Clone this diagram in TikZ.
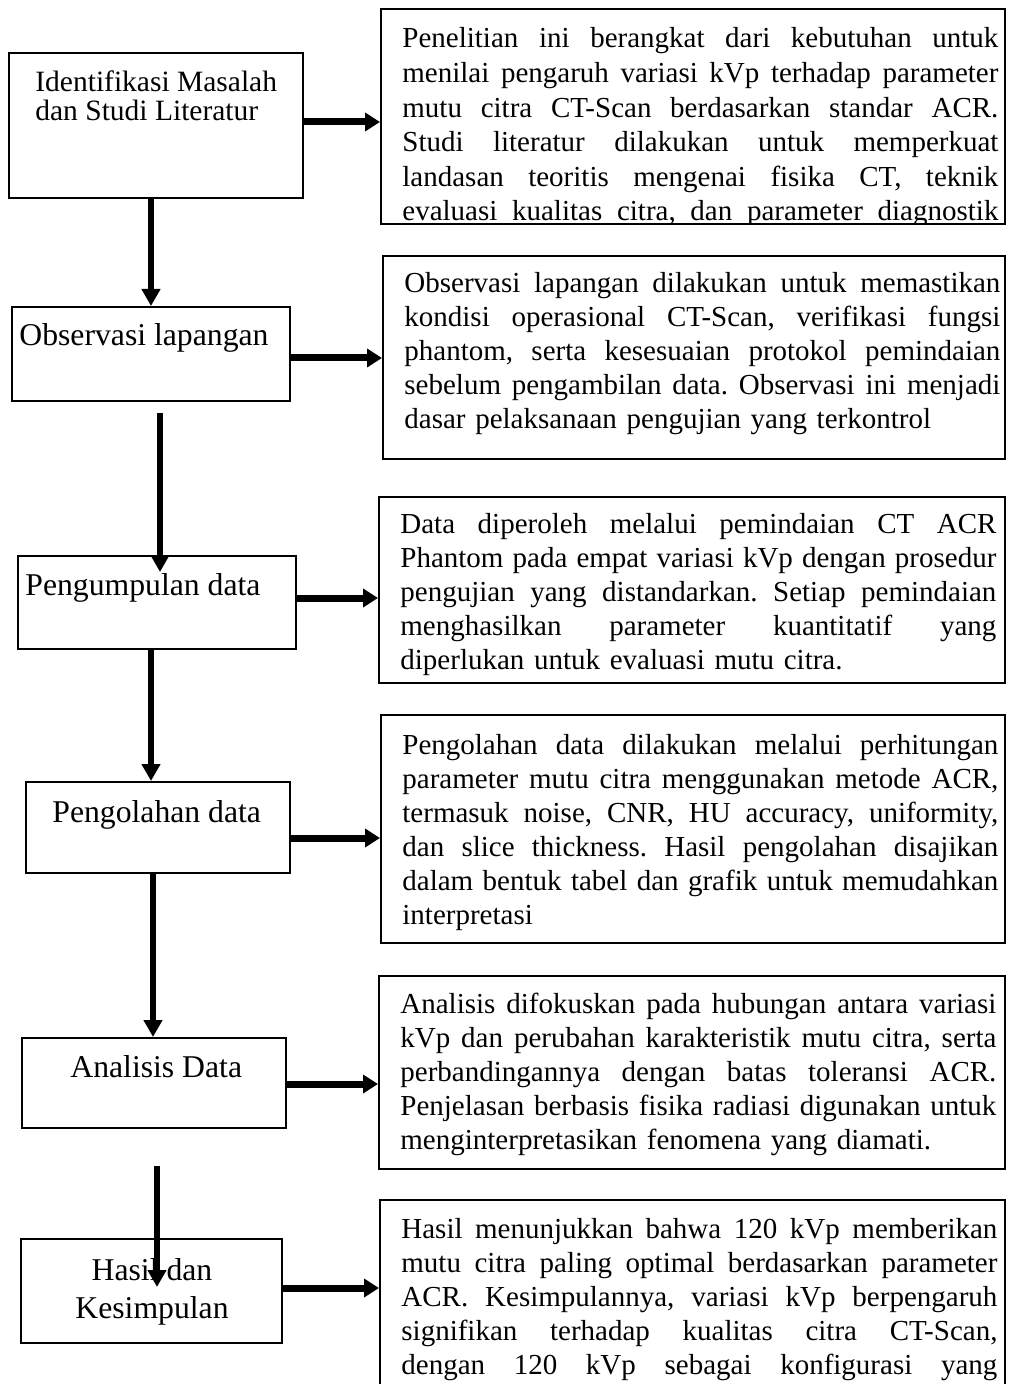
\documentclass[tikz,border=0pt]{standalone}
\usepackage{fontspec}
\setmainfont{Liberation Serif}[Ligatures=NoCommon]
\usetikzlibrary{arrows.meta}
\frenchspacing
\newcommand{\jline}[1]{\makebox[298pt][s]{\spaceskip=0pt\xspaceskip=0pt #1}}

\begin{document}
\begin{tikzpicture}[x=0.5pt, y=-0.5pt, line join=miter]
\tikzset{
  sbox/.style={draw, line width=1pt, anchor=north west, inner sep=0pt},
  dbox/.style={draw, line width=1pt, anchor=north west, inner sep=0pt},
  slabel/.style={inner sep=0pt, anchor=base west, font=\fontsize{15.85}{19}\selectfont},
  dtext/.style={inner sep=0pt, anchor=base west, text width=298pt, align=left, font=\fontsize{14.5}{17}\selectfont},
  harrow/.style={line width=3.5pt, -{Triangle[length=7.5pt,width=9pt]}},
  varrow/.style={line width=3pt, -{Triangle[length=8.5pt,width=9pt]}}
}
\clip (0,0) rectangle (1009,1384);
% steps on the left
\node[sbox, minimum width=147pt, minimum height=72.5pt] (s1) at (8,52) {};
\node[sbox, minimum width=139pt, minimum height=47pt] (s2) at (11,306) {};
\node[sbox, minimum width=139pt, minimum height=46.5pt] (s3) at (17,555) {};
\node[sbox, minimum width=132pt, minimum height=45.5pt] (s4) at (25,781) {};
\node[sbox, minimum width=132pt, minimum height=45pt] (s5) at (21,1037) {};
\node[sbox, minimum width=130.5pt, minimum height=52pt] (s6) at (20,1238) {};
\node[slabel, font=\fontsize{14.75}{17}\selectfont] (l1a) at (35,92) {Identifikasi Masalah};
\node[slabel, font=\fontsize{14.75}{17}\selectfont] (l1b) at (35,121) {dan Studi Literatur};
\node[slabel] (l2) at (19,346) {Observasi lapangan};
\node[slabel] (l3) at (25,595) {Pengumpulan data};
\node[slabel] (l4) at (52,822) {Pengolahan data};
\node[slabel] (l5) at (70,1077) {Analisis Data};
\node[slabel, anchor=base] (l6a) at (152,1280) {Hasil dan};
\node[slabel, anchor=base] (l6b) at (152,1318) {Kesimpulan};
% descriptions on the right
\node[dbox, minimum width=312pt, minimum height=107.5pt] (d1) at (380,8) {};
\node[dbox, minimum width=311pt, minimum height=101.5pt] (d2) at (382,255) {};
\node[dbox, minimum width=313pt, minimum height=93pt] (d3) at (378,496) {};
\node[dbox, minimum width=312pt, minimum height=114pt] (d4) at (380,714) {};
\node[dbox, minimum width=313pt, minimum height=96.5pt] (d5) at (378,975) {};
\node[dbox, minimum width=312.5pt, minimum height=125pt] (d6) at (379,1199) {};
\begin{scope}
\clip (d1.north west) rectangle (d1.south east);
\node[dtext, font=\fontsize{14.5}{17.3}\selectfont] (t1) at (402,48) {\jline{Penelitian ini berangkat dari kebutuhan untuk}\\
  \jline{menilai pengaruh variasi kVp terhadap parameter}\\
  \jline{mutu citra CT-Scan berdasarkan standar ACR.}\\
  \jline{Studi literatur dilakukan untuk memperkuat}\\
  \jline{landasan teoritis mengenai fisika CT, teknik}\\
  \jline{evaluasi kualitas citra, dan parameter diagnostik}};
\end{scope}
\node[dtext] (t2) at (404,293) {\jline{Observasi lapangan dilakukan untuk memastikan}\\
  \jline{kondisi operasional CT-Scan, verifikasi fungsi}\\
  \jline{phantom, serta kesesuaian protokol pemindaian}\\
  \jline{sebelum pengambilan data. Observasi ini menjadi}\\
  dasar pelaksanaan pengujian yang terkontrol};
\node[dtext] (t3) at (400,533) {\jline{Data diperoleh melalui pemindaian CT ACR}\\
  \jline{Phantom pada empat variasi kVp dengan prosedur}\\
  \jline{pengujian yang distandarkan. Setiap pemindaian}\\
  \jline{menghasilkan parameter kuantitatif yang}\\
  diperlukan untuk evaluasi mutu citra.};
\node[dtext] (t4) at (402,754) {\jline{Pengolahan data dilakukan melalui perhitungan}\\
  \jline{parameter mutu citra menggunakan metode ACR,}\\
  \jline{termasuk noise, CNR, HU accuracy, uniformity,}\\
  \jline{dan slice thickness. Hasil pengolahan disajikan}\\
  \jline{dalam bentuk tabel dan grafik untuk memudahkan}\\
  interpretasi};
\node[dtext] (t5) at (400,1013) {\jline{Analisis difokuskan pada hubungan antara variasi}\\
  \jline{kVp dan perubahan karakteristik mutu citra, serta}\\
  \jline{perbandingannya dengan batas toleransi ACR.}\\
  \jline{Penjelasan berbasis fisika radiasi digunakan untuk}\\
  menginterpretasikan fenomena yang diamati.};
\node[dtext] (t6) at (401,1238) {\jline{Hasil menunjukkan bahwa 120 kVp memberikan}\\
  \jline{mutu citra paling optimal berdasarkan parameter}\\
  \jline{ACR. Kesimpulannya, variasi kVp berpengaruh}\\
  \jline{signifikan terhadap kualitas citra CT-Scan,}\\
  \jline{dengan 120 kVp sebagai konfigurasi yang}};
% arrows
\draw[harrow] (s1.east |- 0,122) -- (d1.west |- 0,122);
\draw[harrow] (s2.east |- 0,358) -- (d2.west |- 0,358);
\draw[harrow] (s3.east |- 0,598) -- (d3.west |- 0,598);
\draw[harrow] (s4.east |- 0,838) -- (d4.west |- 0,838);
\draw[harrow] (s5.east |- 0,1084) -- (d5.west |- 0,1084);
\draw[harrow] (s6.east |- 0,1288) -- (d6.west |- 0,1288);
\coordinate (v2a) at (160,413);
\coordinate (v2b) at (160,572);
\coordinate (v5a) at (157,1166);
\coordinate (v5b) at (157,1287);
\draw[varrow] (s1.south -| 151,0) -- (s2.north -| 151,0);
\draw[varrow] (v2a) -- (v2b);
\draw[varrow] (s3.south -| 151,0) -- (s4.north -| 151,0);
\draw[varrow] (s4.south -| 153,0) -- (s5.north -| 153,0);
\draw[varrow] (v5a) -- (v5b);
\end{tikzpicture}
\end{document}
